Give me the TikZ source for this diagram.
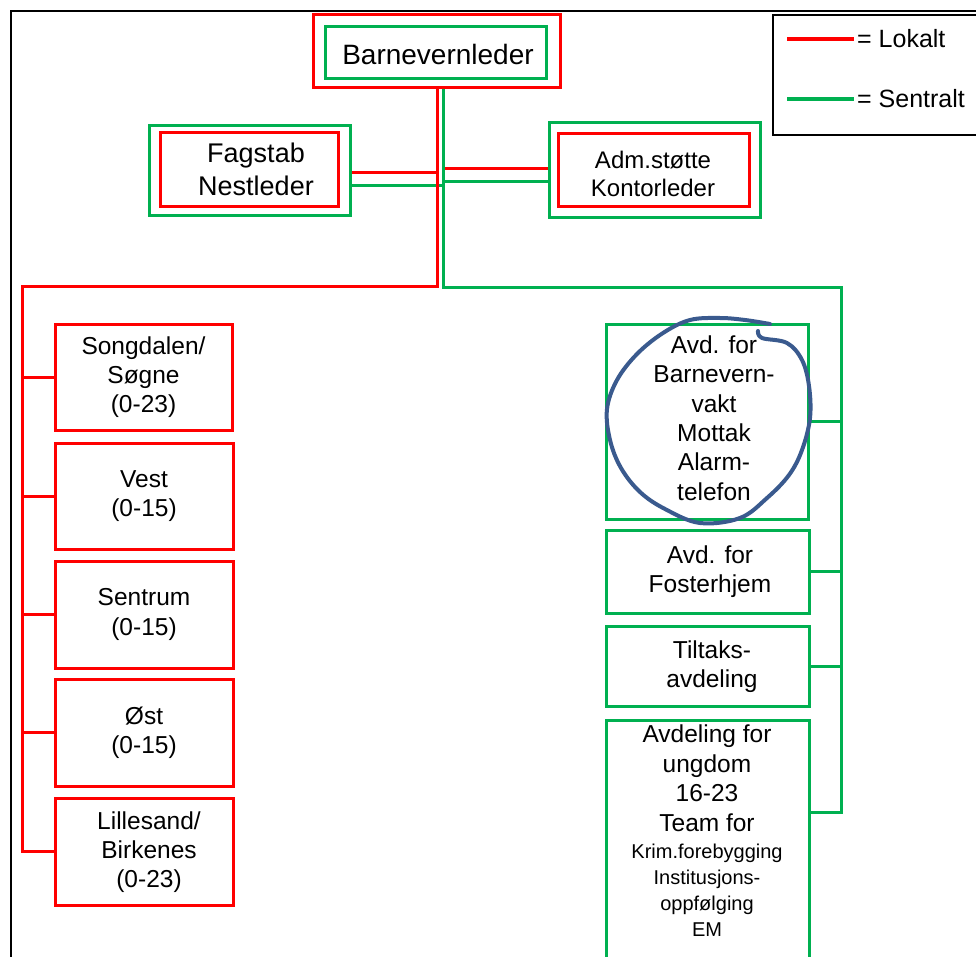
\documentclass[tikz,border=0pt]{standalone}
\usepackage{fontspec}
\setmainfont{Liberation Sans}
\usetikzlibrary{calc}
\definecolor{lred}{HTML}{FF0000}
\definecolor{lgreen}{HTML}{00B050}
\definecolor{pen}{HTML}{3A5A8E}
\begin{document}
\begin{tikzpicture}[x=1pt,y=-1pt,
 rbox/.style={draw=lred,line width=3pt,inner sep=0pt,align=center,fill=white},
 gbox/.style={draw=lgreen,line width=3pt,inner sep=0pt,align=center,fill=white},
 sz/.style 2 args={minimum width=#1pt,minimum height=#2pt},
 rl/.style={draw=lred,line width=3pt},
 gl/.style={draw=lgreen,line width=3pt},
 txt/.style={font=\fontsize{24.5}{29.3}\selectfont,align=center,inner sep=0pt},
 small/.style={font=\fontsize{20}{26}\selectfont,align=center,inner sep=0pt}
]
\useasboundingbox (0,0) rectangle (976,957);
% outer frame
\coordinate (fb) at (11,980);
\coordinate (fc) at (11,11);
\coordinate (fr) at (990,11);
\draw[black,line width=2pt] (fb) -- (fc) -- (fr);
% legend
\node[draw=black,line width=2pt,fill=white,sz={217}{120},inner sep=0pt] (leg) at (881.5,75) {};
\coordinate (la) at (787,39);
\coordinate (lb) at (854,39);
\coordinate (lc2) at (787,99);
\coordinate (ld) at (854,99);
\draw[rl,line width=4pt] (la) -- (lb);
\draw[gl,line width=4pt] (lc2) -- (ld);
\node[anchor=west,font=\fontsize{25}{28}\selectfont,inner sep=0pt] (lt1) at (857,39) {= Lokalt};
\node[anchor=west,font=\fontsize{25}{28}\selectfont,inner sep=0pt] (lt2) at (857,99) {= Sentralt};

% top
\node[rbox,sz={247}{73}] (topO) at (436.5,51.5) {};
\node[gbox,sz={221}{52}] (topI) at (435.5,53) {};
\node[font=\fontsize{28}{32}\selectfont,inner sep=0pt] (topT) at (438,54) {Barnevernleder};

% second level
\node[gbox,sz={201}{90}] (fagO) at (249.5,171) {};
\node[rbox,sz={178}{74}] (fagI) at (249,170) {};
\node[font=\fontsize{27}{33}\selectfont,align=center,inner sep=0pt] (fagT) at (256,169) {Fagstab\\Nestleder};

\node[gbox,sz={211}{95}] (admO) at (654.5,170.5) {};
\node[rbox,sz={191}{73}] (admI) at (653.5,170.5) {};
\node[font=\fontsize{24}{28}\selectfont,align=center,inner sep=0pt] (admT) at (653,174) {Adm.støtte\\Kontorleder};

% left boxes
\node[rbox,sz={177}{106},txt] (l1) at (143.5,377) {Songdalen/\\Søgne\\(0-23)};
\node[rbox,sz={178}{106},txt] (l2) at (144,496) {Vest\\(0-15)};
\node[rbox,sz={178}{107},txt] (l3) at (144,614.5) {Sentrum\\(0-15)};
\node[rbox,sz={178}{107},txt] (l4) at (144,732.5) {Øst\\(0-15)};
\node[rbox,sz={178}{107}] (l5) at (144,851.5) {};
\node[txt] (l5T) at (149,852) {Lillesand/\\Birkenes\\(0-23)};

% right boxes
\node[gbox,sz={202}{195}] (r1) at (707,421.5) {};
\node[txt] (r1T) at (714,418) {Avd. for\\Barnevern-\\vakt\\Mottak\\Alarm-\\telefon};
\node[gbox,sz={203}{83}] (r2) at (707.5,571.5) {};
\node[txt] (r2T) at (710,572) {Avd. for\\Fosterhjem};
\node[gbox,sz={203}{80}] (r3) at (707.5,666) {};
\node[txt] (r3T) at (712,667) {Tiltaks-\\avdeling};
\node[gbox,sz={203}{255}] (r4) at (707.5,847.5) {};
\node[txt,anchor=north,font=\fontsize{24.5}{29.5}\selectfont] (r4T) at (707,725) {Avdeling for\\ungdom\\16-23\\Team for};
\node[small,anchor=north] (r4S) at (707,844) {Krim.forebygging\\Institusjons-\\oppfølging\\EM};

% vertical trunk coordinates
\coordinate (rv) at (437,287);
\coordinate (gv) at (443,288);
\coordinate (lc) at (22,287);
\coordinate (gc) at (841,288);
\coordinate (gb) at (841,812);

% horizontal staff connectors
\coordinate (fR) at ($(fagO.east)+(0,2)$);
\coordinate (fG) at ($(fagO.east)+(0,15)$);
\coordinate (aR) at ($(admO.west)+(0,-1.5)$);
\coordinate (aG) at ($(admO.west)+(0,11.5)$);
\draw[rl] (fR) -- (fR -| rv);
\draw[rl] (aR) -- (aR -| gv);
\draw[gl] (fG) -- ([xshift=2pt]fG -| gv);
\draw[gl] (aG) -- (aG -| gv);

% main trunks
\draw[rl] (topO.south -| rv) -- (rv) -- (lc) -- (lc |- l5.west) -- (l5.west);
\draw[gl] (topO.south -| gv) -- (gv) -- (gc) -- (gb) -- (gb -| r4.east);

% branches
\draw[rl] (lc |- l1.west) -- (l1.west);
\draw[rl] (lc |- l2.west) -- (l2.west);
\draw[rl] (lc |- l3.west) -- (l3.west);
\draw[rl] (lc |- l4.west) -- (l4.west);
\draw[gl] (r1.east) -- (r1.east -| gc);
\draw[gl] (r2.east) -- (r2.east -| gc);
\draw[gl] (r3.east) -- (r3.east -| gc);

% hand-drawn circle
\draw[pen,line width=4pt,line cap=round,line join=round] plot[smooth,tension=0.6] coordinates {
(770,324) (745,320) (720,318) (690,320) (663,333) (637,354) (617,380) (607,409) (610,440) (621,468) (640,492) (665,509) (700,523) (740,518) (767,498) (789,475) (802,450) (810,418) (809,386) (802,360) (787,343) (762,338) (758,331)};
\end{tikzpicture}
\end{document}
